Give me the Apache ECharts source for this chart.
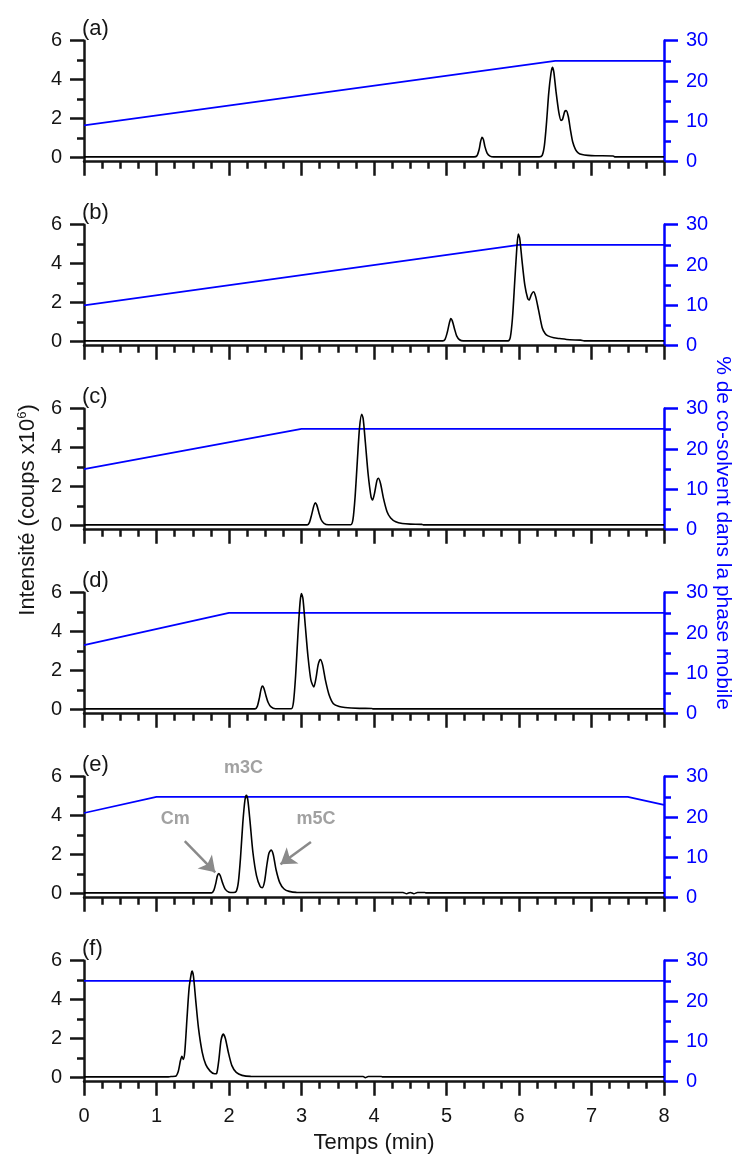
<!DOCTYPE html>
<html>
<head>
<meta charset="utf-8">
<script src="https://cdn.jsdelivr.net/npm/echarts@6/dist/echarts.min.js"></script>
<style>
html,body{margin:0;padding:0;background:#fff;}
#chart{width:745px;height:1156px;}
</style>
</head>
<body>
<div id="chart"></div>
<script>
// ---------- DATA ----------
const panelLabels = ['(a)', '(b)', '(c)', '(d)', '(e)', '(f)'];
const xTickLabels = ['0', '1', '2', '3', '4', '5', '6', '7', '8'];
const leftTickValues = [0, 2, 4, 6];
const rightTickValues = [0, 10, 20, 30];

// chromatograms: [time (min), intensity (x10^6 counts)]
const chromA = [[0,0.02],[5.38,0.02],[5.42,0.08],[5.45,0.4],[5.47,0.8],[5.49,1.03],[5.51,0.9],[5.53,0.55],[5.56,0.22],[5.6,0.06],[5.65,0.02],[6.28,0.02],[6.32,0.1],[6.35,0.6],[6.38,1.8],[6.41,3.3],[6.44,4.3],[6.46,4.63],[6.48,4.4],[6.51,3.4],[6.55,2.3],[6.58,1.9],[6.6,1.95],[6.63,2.35],[6.65,2.4],[6.68,2.1],[6.71,1.4],[6.74,0.8],[6.78,0.4],[6.82,0.22],[6.87,0.14],[6.95,0.1],[7.05,0.08],[7.3,0.07],[7.32,0.02],[8,0.02]];
const chromB = [[0,0.02],[4.95,0.02],[4.98,0.1],[5.01,0.45],[5.04,0.95],[5.06,1.17],[5.08,1.05],[5.11,0.65],[5.14,0.28],[5.18,0.08],[5.23,0.02],[5.85,0.02],[5.88,0.2],[5.91,1.2],[5.94,3.0],[5.97,4.8],[5.99,5.52],[6.01,5.3],[6.04,4.2],[6.08,2.9],[6.12,2.2],[6.14,2.12],[6.17,2.4],[6.2,2.55],[6.23,2.3],[6.27,1.6],[6.32,0.7],[6.36,0.4],[6.4,0.28],[6.48,0.18],[6.56,0.14],[6.7,0.08],[6.85,0.06],[6.9,0.02],[8,0.02]];
const chromC = [[0,0.02],[3.08,0.02],[3.11,0.15],[3.14,0.55],[3.17,1.0],[3.19,1.16],[3.21,1.05],[3.24,0.65],[3.27,0.3],[3.31,0.1],[3.37,0.03],[3.68,0.03],[3.71,0.3],[3.74,1.5],[3.77,3.3],[3.8,5.0],[3.83,5.71],[3.85,5.5],[3.88,4.3],[3.92,2.6],[3.96,1.45],[3.98,1.3],[4.01,1.7],[4.04,2.3],[4.06,2.42],[4.09,2.15],[4.13,1.4],[4.18,0.7],[4.23,0.38],[4.3,0.18],[4.39,0.09],[4.5,0.06],[4.66,0.05],[4.68,0.02],[8,0.02]];
const chromD = [[0,0.02],[2.36,0.02],[2.39,0.15],[2.42,0.6],[2.44,1.0],[2.46,1.2],[2.48,1.1],[2.51,0.7],[2.54,0.35],[2.58,0.12],[2.64,0.03],[2.86,0.03],[2.89,0.4],[2.92,1.8],[2.95,3.8],[2.98,5.5],[3.0,5.95],[3.02,5.7],[3.05,4.4],[3.09,2.7],[3.13,1.5],[3.17,1.15],[3.2,1.6],[3.23,2.3],[3.26,2.56],[3.29,2.3],[3.33,1.5],[3.38,0.75],[3.44,0.29],[3.52,0.14],[3.6,0.09],[3.8,0.05],[3.97,0.04],[3.99,0.02],[8,0.02]];
const chromE = [[0,0.02],[1.76,0.02],[1.79,0.15],[1.82,0.55],[1.84,0.9],[1.86,1.01],[1.88,0.9],[1.91,0.55],[1.95,0.2],[2.0,0.06],[2.06,0.04],[2.1,0.1],[2.13,0.6],[2.16,1.9],[2.19,3.6],[2.22,4.8],[2.24,5.04],[2.26,4.8],[2.29,3.7],[2.33,2.1],[2.38,0.9],[2.43,0.35],[2.46,0.29],[2.49,0.6],[2.52,1.4],[2.55,2.05],[2.58,2.23],[2.61,2.0],[2.65,1.2],[2.7,0.55],[2.76,0.22],[2.83,0.1],[2.93,0.05],[4.4,0.04],[4.45,-0.02],[4.5,0.04],[4.55,-0.02],[4.6,0.04],[4.7,0.04],[4.72,0.02],[8,0.02]];
const chromF = [[0,0.02],[1.15,0.02],[1.2,0.04],[1.26,0.05],[1.3,0.3],[1.33,0.85],[1.35,1.08],[1.37,0.92],[1.39,1.3],[1.42,3.0],[1.45,4.6],[1.48,5.35],[1.49,5.47],[1.51,5.2],[1.54,4.0],[1.58,2.5],[1.63,1.3],[1.68,0.65],[1.74,0.32],[1.8,0.18],[1.83,0.2],[1.86,0.9],[1.89,1.9],[1.92,2.22],[1.95,2.0],[1.99,1.3],[2.04,0.6],[2.1,0.25],[2.18,0.1],[2.3,0.05],[3.85,0.04],[3.88,-0.02],[3.92,0.04],[4.1,0.04],[4.12,0.02],[8,0.02]];

// co-solvent gradients: [time (min), % co-solvent]
const gradA = [[0,9],[6.5,25],[8,25]];
const gradB = [[0,10],[6,25],[8,25]];
const gradC = [[0,15],[3,25],[8,25]];
const gradD = [[0,17],[2,25],[8,25]];
const gradE = [[0,21],[1,25],[7.5,25],[8,23]];
const gradF = [[0,25],[8,25]];

// peak annotations in panel (e): [time, intensity, label]
const annotTexts = [[1.26, 3.8, 'Cm'], [2.2, 6.45, 'm3C'], [3.2, 3.8, 'm5C']];
const annotArrows = [[[1.39, 2.69], [1.81, 1.08]], [[3.13, 2.64], [2.71, 1.5]]];

const chroms = [chromA, chromB, chromC, chromD, chromE, chromF];
const grads = [gradA, gradB, gradC, gradD, gradE, gradF];

// ---------- LAYOUT ----------
const FONT = '"Liberation Sans", Arial, sans-serif';
const PLOT_LEFT = 84, PLOT_RIGHT = 745 - 664;
const TOP0 = 40.7, PITCH = 184.0, H_LEFT = 116.6, H_RIGHT = 121;
const BLUE = '#0000ff', INK = '#151515';
const TICK_FONT = 20, TITLE_FONT = 22;

const grid = [], xAxis = [], yAxis = [], series = [], graphic = [];

for (let i = 0; i < 6; i++) {
  const top = TOP0 + PITCH * i;
  const last = i === 5;
  grid.push({left: PLOT_LEFT, right: PLOT_RIGHT, top: top, height: H_LEFT});
  grid.push({left: PLOT_LEFT, right: PLOT_RIGHT, top: top, height: H_RIGHT});
  const gA = 2 * i, gB = 2 * i + 1;

  xAxis.push({type: 'value', gridIndex: gA, min: 0, max: 8, show: false});
  xAxis.push({
    type: 'value', gridIndex: gB, min: 0, max: 8, interval: 1,
    axisLine: {show: true, onZero: false, lineStyle: {color: INK, width: 2.5}},
    axisTick: {show: true, length: 14, lineStyle: {color: INK, width: 2.5}},
    minorTick: {show: true, splitNumber: 4, length: 7, lineStyle: {color: INK, width: 2.5}},
    splitLine: {show: false},
    axisLabel: {show: last, fontSize: TICK_FONT, color: INK, fontFamily: FONT, margin: 25,
      formatter: v => xTickLabels[Math.round(v)]},
    name: last ? 'Temps (min)' : '', nameLocation: 'middle', nameGap: 50,
    nameTextStyle: {fontSize: TITLE_FONT, color: INK, fontFamily: FONT}
  });

  yAxis.push({
    type: 'value', gridIndex: gA, position: 'left', min: 0, max: 6, interval: 2,
    axisLine: {show: false},
    axisTick: {show: true, length: 14, lineStyle: {color: INK, width: 2.5}},
    minorTick: {show: true, splitNumber: 2, length: 7, lineStyle: {color: INK, width: 2.5}},
    splitLine: {show: false},
    axisLabel: {fontSize: TICK_FONT, color: INK, fontFamily: FONT, margin: 22,
      formatter: v => String(leftTickValues[Math.round(v / 2)])}
  });
  yAxis.push({
    type: 'value', gridIndex: gB, position: 'left', min: 0, max: 1,
    axisLine: {show: true, onZero: false, lineStyle: {color: INK, width: 2.5}},
    axisTick: {show: false}, axisLabel: {show: false}, splitLine: {show: false}
  });
  yAxis.push({
    type: 'value', gridIndex: gB, position: 'right', min: 0, max: 30, interval: 10,
    axisLine: {show: true, onZero: false, lineStyle: {color: BLUE, width: 2.5}},
    axisTick: {show: true, length: 14, lineStyle: {color: BLUE, width: 2.5}},
    minorTick: {show: true, splitNumber: 2, length: 7, lineStyle: {color: BLUE, width: 2.5}},
    splitLine: {show: false},
    axisLabel: {fontSize: TICK_FONT, color: BLUE, fontFamily: FONT, margin: 22,
      formatter: v => String(rightTickValues[Math.round(v / 10)])}
  });

  series.push({
    type: 'line', xAxisIndex: gB, yAxisIndex: 3 * i + 2, data: grads[i],
    symbol: 'none', lineStyle: {color: BLUE, width: 1.7}, z: 3, animation: false
  });
  series.push({
    type: 'line', xAxisIndex: gA, yAxisIndex: 3 * i, data: chroms[i],
    symbol: 'none', smooth: 0.25, lineStyle: {color: '#000', width: 1.6}, z: 4, animation: false,
    clip: false
  });

  graphic.push({
    type: 'text', left: PLOT_LEFT - 2, top: top - 23,
    style: {text: panelLabels[i], fontSize: 22, fill: INK, fontFamily: FONT}
  });
}

// annotations on panel (e)
series.push({
  type: 'scatter', xAxisIndex: 8, yAxisIndex: 12, clip: false, symbolSize: 0,
  data: annotTexts.map(d => ({value: [d[0], d[1]], label: {formatter: d[2]}})),
  label: {show: true, position: 'inside', fontSize: 18, fontWeight: 'bold', color: '#8a8a8a', fontFamily: FONT},
  z: 5, animation: false, silent: true
});
series.push({
  type: 'lines', coordinateSystem: 'cartesian2d', xAxisIndex: 8, yAxisIndex: 12,
  data: annotArrows.map(a => ({coords: a})),
  symbol: ['none', 'arrow'], symbolSize: [0, 15],
  lineStyle: {color: '#8a8a8a', width: 2.5, opacity: 1, curveness: 0},
  z: 5, animation: false, silent: true
});

// axis titles
graphic.push({
  type: 'text', x: 28, y: 510, rotation: Math.PI / 2,
  style: {
    text: 'Intensité (coups x10{sup|6})', fontSize: TITLE_FONT, fill: INK, fontFamily: FONT,
    align: 'center', verticalAlign: 'middle',
    rich: {sup: {fontSize: 13, verticalAlign: 'top', padding: [0, 0, 12, 0], fill: INK, fontFamily: FONT}}
  }
});
graphic.push({
  type: 'text', x: 723, y: 533, rotation: -Math.PI / 2,
  style: {
    text: '% de co-solvent dans la phase mobile', fontSize: 21, fill: BLUE, fontFamily: FONT,
    align: 'center', verticalAlign: 'middle'
  }
});

const chart = echarts.init(document.getElementById('chart'), null, {renderer: 'canvas'});
chart.setOption({
  animation: false,
  backgroundColor: '#fff',
  grid, xAxis, yAxis, series, graphic
});
</script>
</body>
</html>
